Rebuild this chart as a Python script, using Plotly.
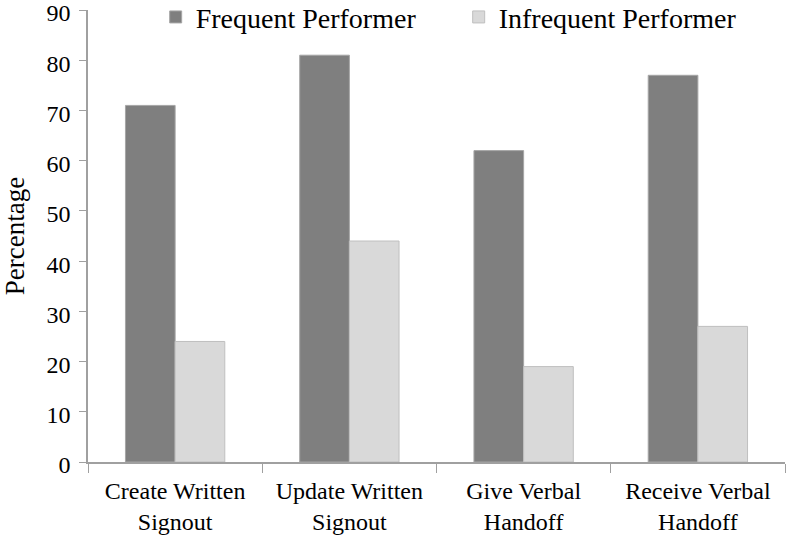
import plotly.graph_objects as go

categories = ["Create Written<br>Signout", "Update Written<br>Signout", "Give Verbal<br>Handoff", "Receive Verbal<br>Handoff"]
frequent = [71, 81, 62, 77]
infrequent = [24, 44, 19, 27]

font_family = "Liberation Serif, DejaVu Serif, serif"

fig = go.Figure()
fig.add_trace(go.Bar(x=categories, y=frequent, name="Frequent Performer",
                     marker=dict(color="#7f7f7f", line=dict(color="#a6a6a6", width=1))))
fig.add_trace(go.Bar(x=categories, y=infrequent, name="Infrequent Performer",
                     marker=dict(color="#d9d9d9", line=dict(color="#bfbfbf", width=1))))

fig.update_layout(
    width=799, height=537,
    margin=dict(l=88, r=14, t=10, b=75, autoexpand=False),
    plot_bgcolor="white", paper_bgcolor="white",
    barmode="group", bargap=0.43, bargroupgap=0,
    font=dict(family=font_family, size=25, color="black"),
    legend=dict(orientation="h", x=0.0971, xanchor="left", y=0.984, yanchor="middle",
                font=dict(size=28), bgcolor="rgba(0,0,0,0)", itemwidth=30,
                entrywidth=258, entrywidthmode="pixels", tracegroupgap=0),
    showlegend=True,
)
fig.update_xaxes(showline=True, linecolor="#a0a0a0", linewidth=1.5,
                 ticks="outside", tickson="boundaries", ticklen=9, tickcolor="#a0a0a0",
                 tickfont=dict(size=24), automargin=False, ticklabeloverflow="allow",
                 ticklabelstandoff=6)
fig.update_yaxes(range=[0, 90], dtick=10, showgrid=False, zeroline=False,
                 showline=True, linecolor="#a0a0a0", linewidth=1.5,
                 ticks="outside", ticklen=7, tickcolor="#a0a0a0",
                 tickfont=dict(size=24), automargin=False, ticklabeloverflow="allow",
                 ticklabelstandoff=4, ticklabelshift=3,
                 title=dict(text="Percentage", font=dict(size=27), standoff=18))

fig.write_html("out.html", config={"displayModeBar": False},
               post_script="document.body.style.margin='0px';")
